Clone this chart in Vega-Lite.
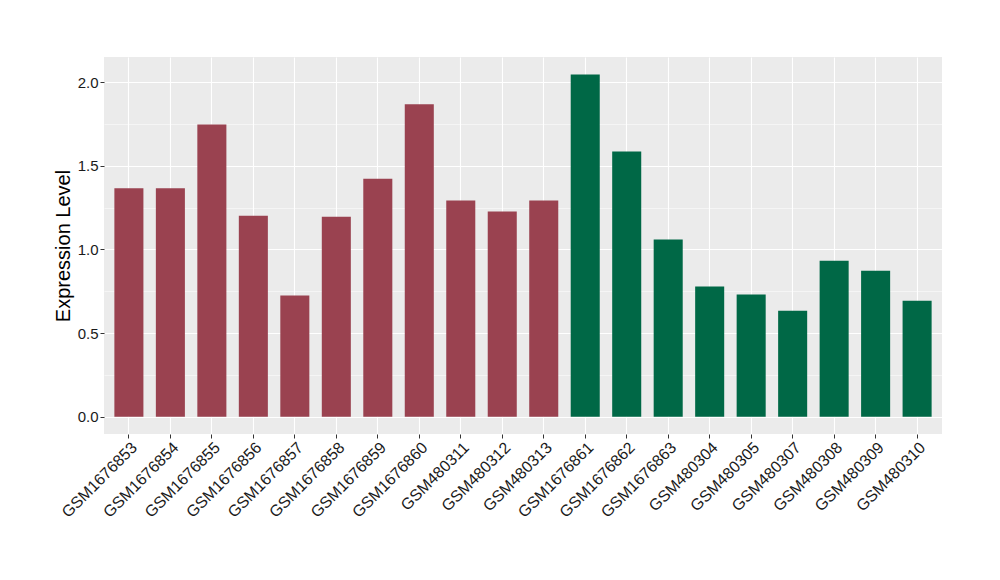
{
  "$schema": "https://vega.github.io/schema/vega-lite/v6.json",
  "width": 838,
  "height": 377,
  "autosize": {"type": "none"},
  "padding": {"left": 104, "top": 57, "right": 58, "bottom": 146},
  "background": "white",
  "config": {
    "view": {"fill": "#EBEBEB", "stroke": null},
    "font": "Liberation Sans"
  },
  "data": {
    "values": [
      {"sample": "GSM1676853", "value": 1.365, "group": "A"},
      {"sample": "GSM1676854", "value": 1.365, "group": "A"},
      {"sample": "GSM1676855", "value": 1.746, "group": "A"},
      {"sample": "GSM1676856", "value": 1.202, "group": "A"},
      {"sample": "GSM1676857", "value": 0.724, "group": "A"},
      {"sample": "GSM1676858", "value": 1.196, "group": "A"},
      {"sample": "GSM1676859", "value": 1.423, "group": "A"},
      {"sample": "GSM1676860", "value": 1.868, "group": "A"},
      {"sample": "GSM480311", "value": 1.292, "group": "A"},
      {"sample": "GSM480312", "value": 1.226, "group": "A"},
      {"sample": "GSM480313", "value": 1.292, "group": "A"},
      {"sample": "GSM1676861", "value": 2.045, "group": "B"},
      {"sample": "GSM1676862", "value": 1.585, "group": "B"},
      {"sample": "GSM1676863", "value": 1.059, "group": "B"},
      {"sample": "GSM480304", "value": 0.778, "group": "B"},
      {"sample": "GSM480305", "value": 0.730, "group": "B"},
      {"sample": "GSM480307", "value": 0.634, "group": "B"},
      {"sample": "GSM480308", "value": 0.933, "group": "B"},
      {"sample": "GSM480309", "value": 0.873, "group": "B"},
      {"sample": "GSM480310", "value": 0.694, "group": "B"}
    ]
  },
  "mark": {"type": "bar"},
  "encoding": {
    "x": {
      "field": "sample",
      "type": "nominal",
      "sort": null,
      "scale": {"paddingInner": 0.3, "paddingOuter": 0.25},
      "axis": {
        "title": null,
        "labelAngle": -45,
        "labelAlign": "right",
        "labelBaseline": "top",
        "labelFontSize": 16,
        "labelColor": "#1a1a1a",
        "labelPadding": 1,
        "grid": true,
        "gridColor": "white",
        "gridWidth": 1.1,
        "bandPosition": 0.5,
        "domain": false,
        "tickColor": "#333333",
        "tickSize": 4,
        "tickWidth": 1
      }
    },
    "y": {
      "field": "value",
      "type": "quantitative",
      "scale": {"domain": [-0.103, 2.15], "nice": false, "zero": false},
      "axis": {
        "title": "Expression Level",
        "titleFontSize": 20,
        "titleFontWeight": "normal",
        "titleColor": "black",
        "titlePadding": 4,
        "values": [0, 0.25, 0.5, 0.75, 1.0, 1.25, 1.5, 1.75, 2.0],
        "labelExpr": "datum.value % 0.5 === 0 ? format(datum.value, '.1f') : ''",
        "labelFontSize": 15,
        "labelColor": "#1a1a1a",
        "labelPadding": 2,
        "grid": true,
        "gridColor": "white",
        "gridWidth": {"condition": {"test": "datum.value % 0.5 === 0", "value": 1.1}, "value": 0.5},
        "domain": false,
        "tickColor": "#333333",
        "tickSize": 4,
        "tickWidth": 1,
        "tickOpacity": {"condition": {"test": "datum.value % 0.5 === 0", "value": 1}, "value": 0}
      }
    },
    "color": {
      "field": "group",
      "type": "nominal",
      "scale": {"domain": ["A", "B"], "range": ["#9A4250", "#006846"]},
      "legend": null
    }
  }
}
